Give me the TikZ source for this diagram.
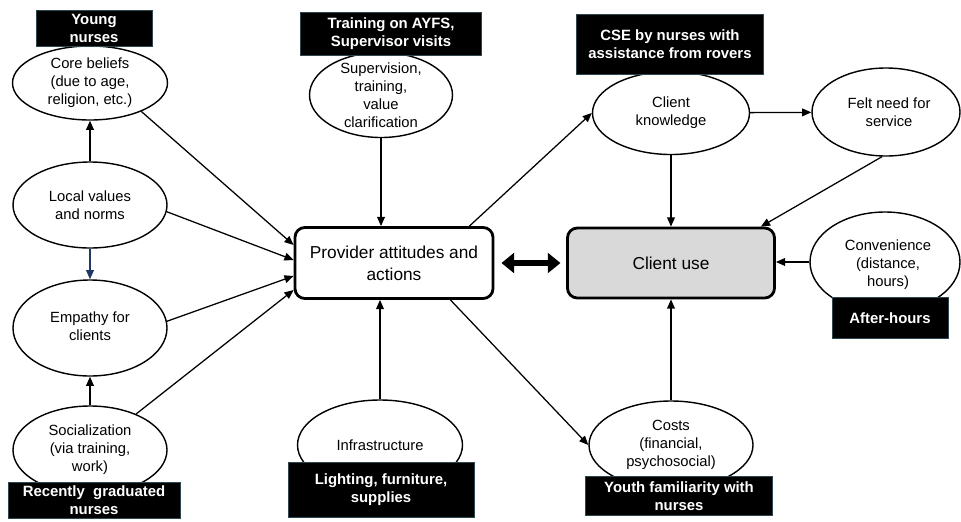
\documentclass[tikz,border=0pt]{standalone}
\usepackage{fontspec}
\setmainfont{Liberation Sans}
\usetikzlibrary{shapes.geometric,arrows.meta,calc}

\newlength\unitpx
\setlength\unitpx{0.025cm}
\definecolor{tagline}{RGB}{45,70,80}
\definecolor{navyarrow}{RGB}{31,56,100}
\definecolor{usegray}{RGB}{217,217,217}

\tikzset{
	wh/.style 2 args={minimum width=#1*\unitpx, minimum height=#2*\unitpx},
	bubble/.style={ellipse, draw, line width=1pt, fill=white, inner sep=0pt},
	btxt/.style={align=center, inner sep=0pt, font=\fontsize{10.5}{12.8}\selectfont},
	tagbox/.style={fill=black, draw=tagline, line width=0.6pt, text=white, align=center, inner sep=0pt, font=\fontsize{10.6}{12.8}\selectfont\bfseries},
	hub/.style={rectangle, rounded corners=7pt, draw, line width=2pt, align=center, inner sep=0pt, font=\fontsize{12.3}{15.6}\selectfont},
	arr/.style={-{Triangle[length=6.5pt,width=5.5pt]}, line width=0.9pt},
	bigarr/.style={{Triangle[length=9pt,width=14pt]}-{Triangle[length=9pt,width=14pt]}, line width=3.8pt}
}

\begin{document}
\begin{tikzpicture}[x=0.025cm, y=-0.025cm]
			\useasboundingbox (0,0) rectangle (961,521);

			\node[bubble, wh={155}{74}] (core) at (90,83) {};
			\node[btxt] at (core) {Core beliefs\\(due to age,\\religion, etc.)};
			\node[bubble, wh={154}{86}] (local) at (90,205) {};
			\node[btxt] at (local) {Local values\\and norms};
			\node[bubble, wh={154}{96}] (emp) at (90,328) {};
			\node[btxt] at (90,326) {Empathy for\\clients};
			\node[bubble, wh={154}{88}] (soc) at (90,450) {};
			\node[btxt] at (soc) {Socialization\\(via training,\\work)};
			\node[bubble, wh={143}{85}] (superv) at (381,95) {};
			\node[btxt] at (superv) {Supervision,\\training,\\value\\clarification};
			\node[bubble, wh={165}{90}] (infra) at (380,445) {};
			\node[btxt] at (infra) {Infrastructure};
			\node[bubble, wh={157}{83}] (ck) at (671,113) {};
			\node[btxt] at (ck) {Client\\knowledge};
			\node[bubble, wh={148}{88}] (fn) at (886,112) {};
			\node[btxt] at (889,112) {Felt need for\\service};
			\node[bubble, wh={150}{100}] (conv) at (885,262) {};
			\node[btxt] at (888,265) {Convenience\\(distance,\\hours)};
			\node[bubble, wh={164}{88}] (costs) at (671,445) {};
			\node[btxt] at (costs) {Costs\\(financial,\\psychosocial)};

			\node[tagbox, wh={116}{36}] (young) at (94,28) {Young\\nurses};
			\node[tagbox, wh={172}{36}] (recent) at (94,500) {Recently\ \ graduated\\nurses};
			\node[tagbox, wh={181}{43}] (ayfs) at (391,34) {Training on AYFS,\\Supervisor visits};
			\node[tagbox, wh={187}{60}] (cse) at (670,44) {CSE by nurses with\\assistance from rovers};
			\node[tagbox, wh={116}{41}] (after) at (890,318) {After-hours};
			\node[tagbox, wh={186}{55}] (light) at (381,490) {Lighting, furniture,\\supplies};
			\node[tagbox, wh={187}{39}] (youth) at (679,496) {Youth familiarity with\\nurses};

			\node[hub, wh={198}{71}] (prov) at (394,263) {Provider attitudes and\\actions};
			\node[hub, fill=usegray, wh={207}{70}] (cu) at (671,263) {Client use};

			\draw[arr] (local) -- (core);
			\draw[arr, navyarrow] (local) -- (emp);
			\draw[arr] (soc) -- (emp);
			\draw[arr] (core.-29) -- ($(prov.west)+(0,-18)$);
			\draw[arr] (local.-5) -- ($(prov.west)+(0,-3)$);
			\draw[arr] (emp.5) -- ($(prov.west)+(0,13)$);
			\draw[arr] (soc.38) -- ($(prov.west)+(0,27)$);
			\draw[arr] (superv.south) -- (superv.south |- prov.north);
			\draw[arr] (infra.north) -- (infra.north |- prov.south);
			\draw[bigarr, shorten <=5pt, shorten >=4pt] (prov) -- (cu);
			\draw[arr] ($(prov.north east)+(-25,0)$) -- (ck.west);
			\draw[arr] ($(prov.south east)+(-44,0)$) -- (costs.west);
			\draw[arr] (ck) -- (fn);
			\draw[arr] (ck) -- (cu);
			\draw[arr] (fn.265) -- ($(cu.north east)+(-15,0)$);
			\draw[arr] (conv.west) -- (conv.west -| cu.east);
			\draw[arr] (costs) -- (cu);
		\end{tikzpicture}
\end{document}
